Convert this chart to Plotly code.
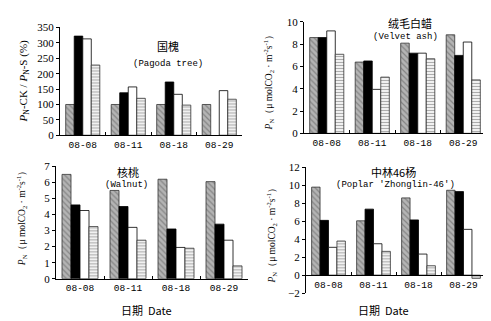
import plotly.graph_objects as go

dates = ["08-08", "08-11", "08-18", "08-29"]

# Pagoda tree (ratio %)
pagoda_a = [100, 100, 100, 100]
pagoda_b = [322, 138, 173, None]
pagoda_c = [313, 157, 133, 145]
pagoda_d = [228, 120, 98, 117]

# Velvet ash
ash_a = [8.6, 6.4, 8.1, 8.85]
ash_b = [8.6, 6.5, 7.2, 7.0]
ash_c = [9.2, 3.95, 7.2, 8.2]
ash_d = [7.1, 5.05, 6.7, 4.8]

# Walnut
walnut_a = [6.5, 5.5, 6.2, 6.05]
walnut_b = [4.6, 4.5, 3.1, 3.4]
walnut_c = [4.25, 3.2, 1.95, 2.4]
walnut_d = [3.25, 2.4, 1.9, 0.8]

# Poplar 'Zhonglin-46'
poplar_a = [9.8, 6.05, 8.6, 9.45]
poplar_b = [6.1, 7.35, 6.15, 9.3]
poplar_c = [3.1, 3.5, 2.35, 5.1]
poplar_d = [3.8, 2.65, 1.05, -0.35]

W, H = 491, 321
def px(x): return x / W
def py(y): return 1 - y / H

styles = [
    dict(color="#a8a8a8", line=dict(color="#333333", width=0.8),
         pattern=dict(shape="\\", fgcolor="#555555", bgcolor="#b4b4b4", size=4, solidity=0.3)),
    dict(color="black", line=dict(color="black", width=0.8)),
    dict(color="white", line=dict(color="black", width=0.8)),
    dict(color="white", line=dict(color="#333333", width=0.8),
         pattern=dict(shape="-", fgcolor="#5a5a5a", bgcolor="white", size=3, solidity=0.45)),
]

panels = [
    ("x", "y", [pagoda_a, pagoda_b, pagoda_c, pagoda_d]),
    ("x2", "y2", [ash_a, ash_b, ash_c, ash_d]),
    ("x3", "y3", [walnut_a, walnut_b, walnut_c, walnut_d]),
    ("x4", "y4", [poplar_a, poplar_b, poplar_c, poplar_d]),
]

fig = go.Figure()
for xa, ya, series in panels:
    for vals, st in zip(series, styles):
        fig.add_trace(go.Bar(x=dates, y=vals, xaxis=xa, yaxis=ya,
                             marker=st, showlegend=False))

tickfont_y = dict(family="Liberation Serif", size=11, color="black")
tickfont_x = dict(family="Liberation Mono", size=9.5, color="black")

def xax(domain, anchor, **kw):
    d = dict(domain=domain, anchor=anchor, type="category", showline=True,
             linecolor="black", linewidth=1,
             ticks="inside", tickson="boundaries", ticklen=3, tickcolor="black",
             showgrid=False, zeroline=False, tickfont=tickfont_x)
    d.update(kw)
    return d

def yax(domain, anchor, rng, dtick, **kw):
    d = dict(domain=domain, anchor=anchor, range=rng, dtick=dtick, showline=True,
             linecolor="black", linewidth=1, ticks="outside", ticklen=3, tickcolor="black",
             showgrid=False, zeroline=False, tickfont=tickfont_y)
    d.update(kw)
    return d

fig.update_layout(
    width=W, height=H, margin=dict(l=0, r=0, t=0, b=0),
    paper_bgcolor="white", plot_bgcolor="white",
    barmode="group", bargap=0.25, bargroupgap=0,
    xaxis=xax([px(52), px(234)], "y"),
    yaxis=yax([py(126), py(14)], "x", [0, 350], 50),
    xaxis2=xax([px(296), px(478)], "y2"),
    yaxis2=yax([py(124), py(8.3)], "x2", [0, 10], 2),
    xaxis3=xax([px(48), px(240)], "y3"),
    yaxis3=yax([py(275), py(158.3)], "x3", [0, 7], 1),
    xaxis4=xax([px(298), px(478)], "free", position=py(271.3)),
    yaxis4=yax([py(290), py(159.3)], "x4", [-2, 12], 2),
)

cn = "Noto Sans CJK SC"
mono = "Liberation Mono"
ann = [
    # panel titles
    dict(x=px(160), y=py(33), text="国槐", font=dict(family=cn, size=11)),
    dict(x=px(160), y=py(52), text="(Pagoda tree)", font=dict(family=mono, size=9)),
    dict(x=px(402), y=py(9), text="绒毛白蜡", font=dict(family=cn, size=11)),
    dict(x=px(397), y=py(24), text="(Velvet ash)", font=dict(family=mono, size=9)),
    dict(x=px(120), y=py(164), text="核桃", font=dict(family=cn, size=11)),
    dict(x=px(118), y=py(178), text="(Walnut)", font=dict(family=mono, size=9)),
    dict(x=px(385), y=py(164), text="中林46杨", font=dict(family=cn, size=11)),
    dict(x=px(387), y=py(178), text="(Poplar ′Zhonglin-46′)", font=dict(family=mono, size=9)),
    # x titles
    dict(x=px(138), y=py(307), text="日期  Date", font=dict(family=cn, size=11)),
    dict(x=px(375), y=py(307), text="日期  Date", font=dict(family=cn, size=11)),
    # y titles
    dict(x=px(16), y=py(70), textangle=-90,
         text="<i>P</i><sub>N</sub>-CK / <i>P</i><sub>N</sub>-S (%)",
         font=dict(family="Liberation Serif", size=11)),
    dict(x=px(260), y=py(69), textangle=-90,
         text="<i>P</i><sub>N</sub>（μ molCO<sub>2</sub> · m<sup>-2</sup>s<sup>-1</sup>）",
         font=dict(family="Liberation Serif", size=9.5)),
    dict(x=px(13), y=py(210), textangle=-90,
         text="<i>P</i><sub>N</sub>（μ molCO<sub>2</sub> · m<sup>-2</sup>s<sup>-1</sup>）",
         font=dict(family="Liberation Serif", size=9.5)),
    dict(x=px(263), y=py(228), textangle=-90,
         text="<i>P</i><sub>N</sub>（μ molCO<sub>2</sub> · m<sup>-2</sup>s<sup>-1</sup>）",
         font=dict(family="Liberation Serif", size=9.5)),
]
for a in ann:
    a.update(xref="paper", yref="paper", showarrow=False, xanchor="center", yanchor="middle")
    a["font"]["color"] = "black"
fig.update_layout(annotations=ann)

fig.write_html("out.html")
